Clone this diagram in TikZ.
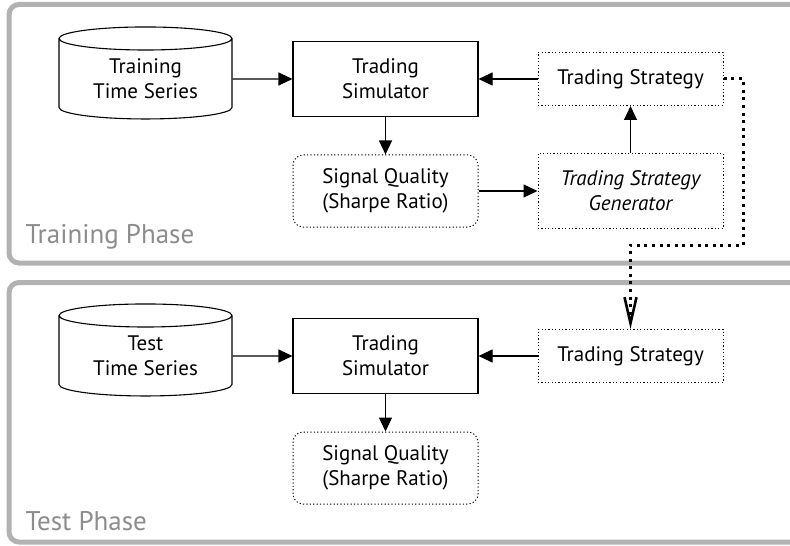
\documentclass[tikz,border=0pt]{standalone}
\usepackage{fontspec}
\setmainfont{PT Sans}
\usetikzlibrary{arrows.meta,shapes.geometric,positioning}

\begin{document}
\begin{tikzpicture}[->,>={Triangle[length=7pt,width=6.5pt]},line width=0.55pt,on grid,
        font=\fontsize{10.5}{12.5}\selectfont,
        block/.style={draw,align=center,minimum width=92.5pt,minimum height=37.5pt,inner sep=0pt},
        data/.style={draw,cylinder,shape border rotate=90,aspect=0.22,align=center,
            minimum width=86.5pt,minimum height=46pt,inner sep=0pt},
        plan/.style={draw,line width=0.5pt,dash pattern=on 0.6pt off 1.1pt,align=center,
            minimum width=92.5pt,minimum height=26.5pt,inner sep=0pt},
        score/.style={plan,rounded corners=5pt,minimum height=36pt},
        phase/.style={-,draw=black!30,line width=2.5pt,rounded corners=5pt},
        phasename/.style={anchor=base west,inner sep=0pt,text=black!45,font=\fontsize{13.5}{16}\selectfont},
        handover/.style={line width=1.5pt,dash pattern=on 1.5pt off 2.3pt,
            -{Straight Barb[length=13pt,width=6pt,line width=1.3pt]}}]

  \useasboundingbox (0,0) rectangle (395pt,-272.5pt);

  % the two phases
  \draw[phase] (4.5pt,-2.25pt) rectangle (410pt,-131.5pt);
  \draw[phase] (4.5pt,-141.25pt) rectangle (410pt,-271pt);
  \node[phasename] (trainphase) at (12.5pt,-121.5pt) {Training Phase};
  \node[phasename] (testphase) at (12.5pt,-265pt) {Test Phase};

  % training
  \node[data] (trainseries) at (72.75pt,-39.5pt) {Training\\Time Series};
  \node[block] (trainsim) [right=120pt of trainseries] {Trading\\Simulator};
  \node[plan] (trainplan) [right=122.5pt of trainsim] {Trading Strategy};
  \node[score] (trainscore) [below=56pt of trainsim] {Signal Quality\\(Sharpe Ratio)};
  \node[plan,minimum height=37.5pt,font=\fontsize{10.5}{12.5}\selectfont\itshape] (generator)
        [below=56pt of trainplan] {Trading Strategy\\Generator};

  % test
  \node[data] (testseries) [below=138.5pt of trainseries] {Test\\Time Series};
  \node[block] (testsim) [right=120pt of testseries] {Trading\\Simulator};
  \node[plan] (testplan) [right=122.5pt of testsim] {Trading Strategy};
  \node[score] (testscore) [below=56pt of testsim] {Signal Quality\\(Sharpe Ratio)};

  \coordinate (link) at (371.5pt,-122.5pt);

  \path (trainseries) edge (trainsim)
        (trainplan) edge (trainsim)
        (trainsim) edge (trainscore)
        (trainscore) edge (generator)
        (generator) edge (trainplan)

        (testseries) edge (testsim)
        (testplan) edge (testsim)
        (testsim) edge (testscore);

  % learned strategy is handed to the test phase
  \draw[handover] (trainplan.east) -| (link) -| (testplan.north);
\end{tikzpicture}
\end{document}
